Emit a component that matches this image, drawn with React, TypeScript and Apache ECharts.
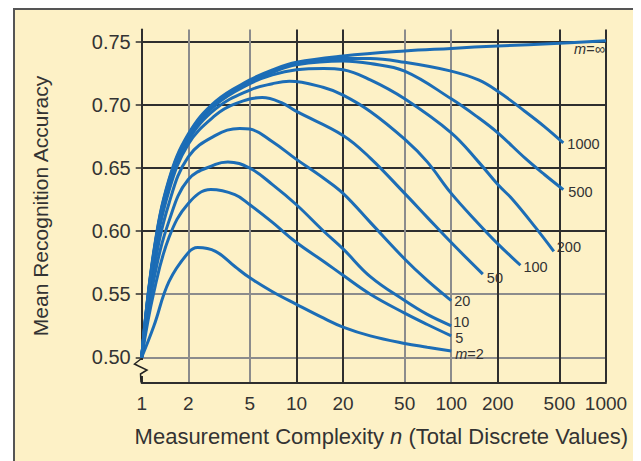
import React, { useEffect, useRef } from "react";
import * as echarts from "echarts";

// X tick values (log axis) and Y tick labels
const xTicks = [1, 2, 5, 10, 20, 50, 100, 200, 500, 1000];
const yLabelValues = [0.5, 0.55, 0.6, 0.65, 0.7, 0.75];

// Curves: n (measurement complexity) and mean recognition accuracy
const nM2 = [1, 1.2, 1.5, 2, 2.3, 3, 4, 5, 7, 10, 15, 20, 30, 50, 70, 100];
const vM2 = [0.5, 0.525, 0.56, 0.583, 0.587, 0.584, 0.572, 0.563, 0.552, 0.542, 0.531, 0.524, 0.517, 0.511, 0.508, 0.505];

const nM5 = [1, 1.2, 1.5, 2, 2.8, 4, 5, 7, 10, 15, 20, 30, 50, 70, 100];
const vM5 = [0.5, 0.552, 0.595, 0.622, 0.633, 0.629, 0.621, 0.607, 0.591, 0.576, 0.565, 0.55, 0.535, 0.526, 0.517];

const nM10 = [1, 1.2, 1.5, 2, 3, 3.6, 5, 7, 10, 15, 20, 30, 50, 70, 100];
const vM10 = [0.5, 0.562, 0.608, 0.641, 0.653, 0.655, 0.65, 0.637, 0.621, 0.6, 0.586, 0.564, 0.545, 0.534, 0.525];

const nM20 = [1, 1.2, 1.5, 2, 3, 4.3, 5, 7, 10, 15, 20, 30, 50, 70, 100];
const vM20 = [0.5, 0.57, 0.622, 0.659, 0.676, 0.6815, 0.681, 0.671, 0.657, 0.642, 0.63, 0.607, 0.578, 0.561, 0.545];

const nM50 = [1, 1.2, 1.5, 2, 3, 4, 6, 8, 10, 20, 30, 50, 70, 100, 160];
const vM50 = [0.5, 0.577, 0.632, 0.669, 0.692, 0.701, 0.706, 0.702, 0.695, 0.676, 0.658, 0.63, 0.611, 0.591, 0.566];

const nM100 = [1, 1.2, 1.5, 2, 3, 5, 7, 9, 15, 20, 30, 50, 70, 100, 150, 200, 280];
const vM100 = [0.5, 0.58, 0.636, 0.672, 0.697, 0.712, 0.717, 0.719, 0.714, 0.708, 0.695, 0.673, 0.655, 0.63, 0.606, 0.59, 0.573];

const nM200 = [1, 1.2, 1.5, 2, 3, 5, 7, 10, 15, 20, 30, 50, 100, 150, 200, 250, 350, 460];
const vM200 = [0.5, 0.582, 0.638, 0.674, 0.7, 0.717, 0.724, 0.728, 0.729, 0.728, 0.72, 0.705, 0.678, 0.655, 0.637, 0.625, 0.603, 0.584];

const nM500 = [1, 1.2, 1.5, 2, 3, 5, 7, 10, 20, 30, 50, 100, 150, 200, 300, 400, 530];
const vM500 = [0.5, 0.583, 0.639, 0.675, 0.701, 0.718, 0.726, 0.732, 0.735, 0.733, 0.727, 0.705, 0.69, 0.678, 0.658, 0.645, 0.633];

const nM1000 = [1, 1.2, 1.5, 2, 3, 5, 7, 10, 20, 30, 50, 100, 150, 200, 300, 400, 530];
const vM1000 = [0.5, 0.584, 0.64, 0.676, 0.702, 0.719, 0.727, 0.733, 0.737, 0.737, 0.734, 0.727, 0.72, 0.711, 0.695, 0.683, 0.67];

const nMInf = [1, 1.2, 1.5, 2, 3, 5, 7, 10, 20, 50, 100, 200, 500, 1000];
const vMInf = [0.5, 0.585, 0.641, 0.677, 0.703, 0.72, 0.728, 0.734, 0.739, 0.743, 0.745, 0.747, 0.749, 0.751];

const curves = [
  { name: "m=2", label: "{i|m}=2", n: nM2, v: vM2, offset: [4, 3], align: "left" },
  { name: "m=5", label: "5", n: nM5, v: vM5, offset: [4, 2], align: "left" },
  { name: "m=10", label: "10", n: nM10, v: vM10, offset: [2, -4], align: "left" },
  { name: "m=20", label: "20", n: nM20, v: vM20, offset: [3, 0], align: "left" },
  { name: "m=50", label: "50", n: nM50, v: vM50, offset: [4, 4], align: "left" },
  { name: "m=100", label: "100", n: nM100, v: vM100, offset: [3, 2], align: "left" },
  { name: "m=200", label: "200", n: nM200, v: vM200, offset: [3, -4], align: "left" },
  { name: "m=500", label: "500", n: nM500, v: vM500, offset: [5, 2], align: "left" },
  { name: "m=1000", label: "1000", n: nM1000, v: vM1000, offset: [4, 1], align: "left" },
  { name: "m=inf", label: "{i|m}=∞", n: nMInf, v: vMInf, offset: [-1, 8], align: "right" },
];

const FONT = "'Liberation Sans', Arial, Helvetica, sans-serif";
const TEXT = "#333333";
const CREAM = "#FDF1C6";
const BLUE = "#1C6DB6";
const DARK = "#2e2e2e";
const GREY = "#8c8c8c";

export default function App() {
  const ref = useRef<HTMLDivElement>(null);

  useEffect(() => {
    if (!ref.current) return;
    const chart = echarts.init(ref.current, undefined, { renderer: "svg" });

    const series: any[] = curves.map((c) => ({
      name: c.name,
      type: "line",
      data: c.n.map((x, i) => [x, c.v[i]]),
      smooth: 0.4,
      showSymbol: false,
      symbol: "none",
      lineStyle: { color: BLUE, width: 3 },
      z: 5,
      endLabel: {
        show: true,
        formatter: c.label,
        align: c.align,
        verticalAlign: "middle",
        offset: c.offset,
        distance: 0,
        color: TEXT,
        fontFamily: FONT,
        fontSize: 14.5,
        lineHeight: 11,
        rich: {
          i: { fontStyle: "italic", fontFamily: FONT, fontSize: 14.5, lineHeight: 11, color: TEXT },
        },
      },
    }));

    chart.setOption({
      animation: false,
      backgroundColor: "transparent",
      grid: { left: 126.7, top: 19.5, right: 35, bottom: 78.5, containLabel: false },
      xAxis: {
        type: "log",
        logBase: 10,
        min: 1,
        max: 1000,
        name: "Measurement Complexity {i|n} (Total Discrete Values)",
        nameLocation: "middle",
        nameGap: 43,
        nameTextStyle: {
          color: TEXT,
          fontFamily: FONT,
          fontSize: 22,
          padding: [0, 0, 0, 15],
          rich: { i: { fontStyle: "italic", fontFamily: FONT, fontSize: 22, color: TEXT } },
        },
        axisLine: { show: true, lineStyle: { color: DARK, width: 2 } },
        axisTick: { show: false, customValues: xTicks },
        axisLabel: {
          customValues: xTicks,
          color: TEXT,
          fontFamily: FONT,
          fontSize: 19,
          margin: 11,
          formatter: (v: number) => String(Math.round(v)),
        },
        splitLine: {
          show: true,
          lineStyle: { color: [DARK, GREY, GREY, DARK, DARK, GREY, GREY, DARK, DARK, DARK], width: 2 },
        },
      },
      yAxis: {
        type: "value",
        min: 0.48,
        max: 0.76,
        interval: 0.02,
        name: "Mean Recognition Accuracy",
        nameLocation: "middle",
        nameGap: 91,
        nameTextStyle: { color: TEXT, fontFamily: FONT, fontSize: 21 },
        axisLine: { show: true, lineStyle: { color: DARK, width: 2 } },
        axisTick: {
          show: true,
          customValues: yLabelValues,
          length: 6,
          lineStyle: { color: DARK, width: 1.5 },
        },
        axisLabel: {
          customValues: yLabelValues,
          color: TEXT,
          fontFamily: FONT,
          fontSize: 20,
          margin: 11,
          formatter: (v: number) => v.toFixed(2),
        },
        splitLine: {
          show: true,
          lineStyle: {
            color: [GREY, GREY, DARK, DARK, DARK, DARK, DARK, DARK, DARK, DARK, DARK, GREY, DARK, DARK, "#555555"],
            width: 2,
          },
        },
      },
      graphic: [
        {
          type: "rect",
          silent: true,
          z: 10,
          shape: { x: 124, y: 350, width: 5, height: 16 },
          style: { fill: CREAM },
        },
        {
          type: "polyline",
          silent: true,
          z: 11,
          shape: {
            points: [
              [126.5, 348.5],
              [119.5, 354],
              [123.5, 356],
              [132, 360],
              [125.5, 364],
              [126, 372.5],
            ],
          },
          style: { stroke: "#222", lineWidth: 1.5, fill: "none" },
        },
      ],
      series,
    });

    return () => chart.dispose();
  }, []);

  return (
    <div
      style={{
        marginLeft: 5,
        width: 626,
        height: 451,
        borderLeft: "2px solid #555",
        borderTop: "2px solid #555",
        background: CREAM,
      }}
    >
      <div ref={ref} style={{ width: 626, height: 451 }} />
    </div>
  );
}
